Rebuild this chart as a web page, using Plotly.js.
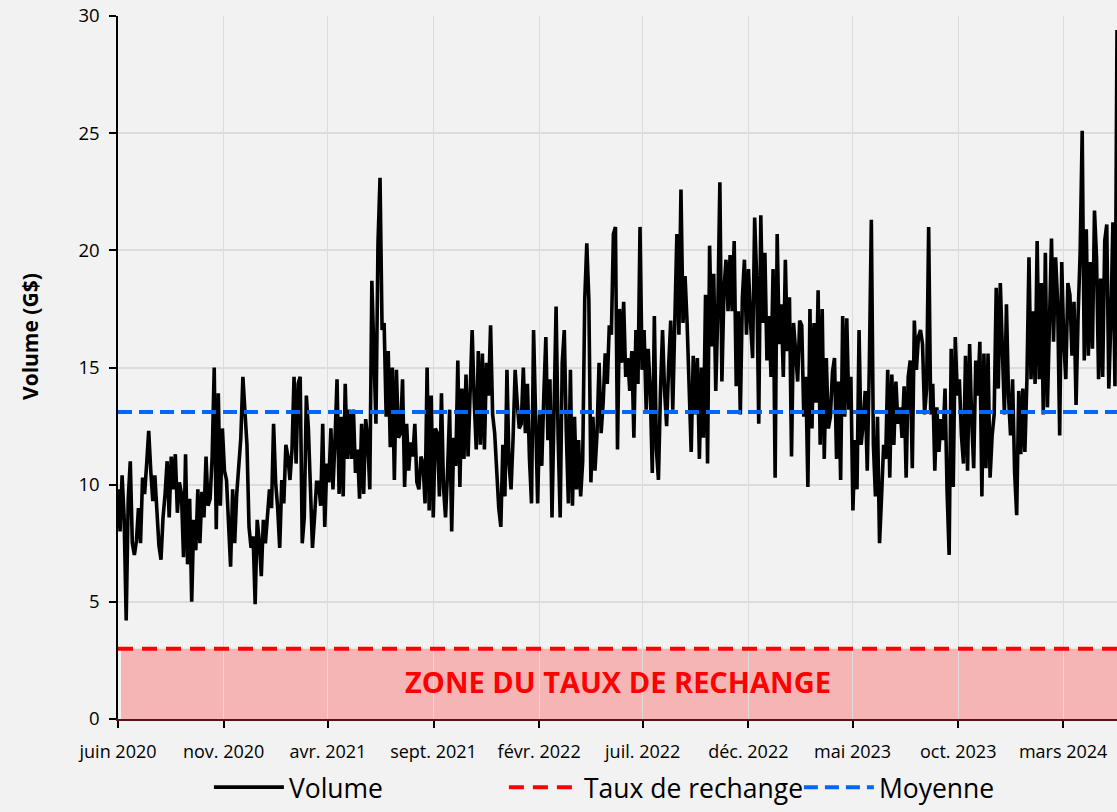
<!DOCTYPE html>
<html>
<head>
<meta charset="utf-8">
<script src="https://cdn.plot.ly/plotly-3.0.1.min.js"></script>
<style>html,body{margin:0;padding:0;background:#f2f2f2;}#chart{width:1117px;height:812px;}</style>
</head>
<body>
<div id="chart"></div>
<script>
// ---- data ----
const startDate = '2020-06-01';
const endDate = '2024-05-18';
const volume = [
  9.8, 8.0, 10.4, 8.6, 4.2, 9.4, 11.0, 7.5, 7.0,
  7.6, 9.0, 7.5, 10.3, 9.6, 10.9, 12.3,
  10.6, 9.3, 10.4, 8.6, 7.4, 6.8, 8.6, 9.6, 11.0,
  8.6, 11.2, 9.8, 11.3, 8.8, 10.1, 9.6,
  6.9, 11.3, 6.6, 9.4, 5.0, 8.5, 7.2,
  9.8, 7.5, 9.7, 8.6, 11.2, 9.1, 9.4, 11.2,
  15.0, 8.1, 13.9, 9.1, 12.4, 10.6,
  10.2, 8.0, 6.5, 9.8, 7.5, 9.6, 10.9, 12.0, 14.6, 12.9,
  11.7, 8.2, 7.3, 7.8, 4.9, 8.5, 7.6, 6.1,
  8.5, 7.5, 8.5, 9.8, 9.0, 12.6, 10.1, 9.0, 7.3,
  10.2, 9.2, 11.7, 11.2, 10.2, 11.5, 14.6, 10.9, 14.3, 14.6,
  7.5, 8.6, 13.8, 12.4, 9.4, 7.3, 8.6, 10.1,
  10.1, 9.1, 12.6, 8.2, 10.9, 10.1,
  12.4, 9.8, 11.9, 14.5, 9.6, 12.9, 9.5, 14.3,
  11.1, 13.2, 11.1, 13.2, 10.5, 11.5, 9.4, 12.6, 9.6, 12.8, 11.9, 9.8,
  18.7, 14.9, 12.6, 20.3, 23.1, 16.6, 16.9, 12.9,
  15.7, 11.6, 15.0, 10.2, 14.9, 12.0, 12.2, 14.5, 9.9,
  12.6, 10.6, 11.8, 11.2, 12.6, 10.1, 9.8, 11.2, 10.9, 9.2,
  15.0, 8.9, 13.8, 8.6, 12.4, 12.2, 9.5, 13.9, 9.9, 8.6, 10.6,
  13.2, 8.0, 12.0, 10.8, 15.3, 9.9, 14.1, 11.1,
  14.7, 11.2, 14.0, 16.6, 13.6, 11.5, 15.7, 11.7,
  15.6, 11.5, 15.2, 13.8, 16.8, 13.0, 12.2, 10.4, 9.0, 8.2,
  11.7, 9.5, 14.9, 10.9, 9.8, 12.0, 14.9, 13.5, 12.4,
  12.6, 15.0, 12.2, 14.3, 11.1, 9.2,
  16.6, 13.0, 9.2, 13.0, 10.8,
  13.8, 16.3, 11.9, 14.5, 8.6, 13.8, 17.6, 12.0,
  8.6, 15.2, 16.6, 12.2, 9.2, 14.9, 9.1, 12.9, 9.8, 11.9, 9.5, 11.0,
  17.9, 20.3, 17.9, 10.1, 12.9, 10.6, 12.2, 15.2, 12.2, 13.5,
  15.6, 14.3, 16.8, 16.4, 20.7, 21.0, 11.5, 17.5, 15.2, 17.8, 14.6,
  15.4, 14.0, 15.7, 12.0, 16.6, 14.3, 21.0, 14.9, 16.6, 13.2, 15.8,
  14.0, 10.5, 17.2, 11.5, 10.2, 14.0, 16.6, 14.0, 12.5, 15.1, 17.0, 13.2,
  17.2, 20.7, 16.4, 22.6, 16.9, 18.9, 16.9, 14.6, 11.4, 15.5, 13.0,
  15.4, 11.1, 15.0, 12.0, 18.1, 10.9, 20.2, 15.9, 19.0, 14.0, 17.4, 22.9,
  14.4, 18.3, 19.6, 17.4, 19.8, 17.4, 20.4,
  14.2, 17.4, 13.0, 18.0, 19.6, 16.4, 19.2, 16.9,
  15.4, 21.4, 18.8, 12.6, 21.5, 16.9, 19.9, 15.3,
  17.2, 14.6, 19.2, 10.3, 20.7, 16.0, 17.7, 14.6,
  19.6, 15.7, 18.0, 11.2, 16.9, 15.7, 14.4, 17.0,
  16.8, 12.9, 14.6, 9.9, 17.5, 12.4, 16.9, 13.5,
  18.3, 11.7, 17.5, 11.1, 15.4, 12.4, 12.9, 14.8,
  15.4, 11.1, 14.4, 10.2, 17.2, 12.9, 17.1, 13.2,
  14.6, 8.9, 11.9, 9.8, 16.6, 11.7, 12.6, 14.0,
  10.6, 15.0, 21.3, 11.7, 9.5, 12.9, 7.5, 9.5,
  11.7, 11.1, 14.9, 10.3, 14.7, 11.7, 14.4, 12.6, 13.3,
  12.0, 14.2, 10.3, 14.6,
  15.3, 10.7, 17.0, 14.9, 16.3, 16.6, 16.0, 13.0,
  14.1, 21.0, 13.0, 14.3, 10.6, 13.3, 11.4, 12.8,
  11.9, 14.1, 9.7, 7.0, 15.8, 9.9, 16.3,
  13.8, 14.5, 12.1, 10.9, 15.5, 10.6, 16.0, 12.8, 10.7, 15.3,
  13.8, 16.1, 9.5, 15.6, 10.7, 15.6, 10.3, 12.1, 13.0,
  18.4, 14.1, 18.6, 16.0, 13.0, 17.7, 13.8, 12.1, 14.5, 10.5,
  8.7, 14.0, 11.3, 14.1, 11.4, 14.5, 19.7,
  14.5, 17.4, 14.3, 20.4, 14.5, 18.6, 13.0, 19.9,
  13.3, 17.8, 20.5, 16.1, 19.7, 17.8, 12.1, 19.5,
  16.1, 14.5, 18.6, 18.1, 15.5, 17.8, 13.4, 17.2,
  19.9, 25.1, 15.3, 20.9, 15.5, 19.5, 15.8, 21.7,
  19.7, 14.5, 18.8, 14.6, 20.4, 21.1, 14.1, 17.0, 21.2, 14.2, 29.4
];
const tauxRechange = 3;
const moyenne = 13.1;
const tickDates = ['2020-06-01','2020-11-01','2021-04-01','2021-09-01','2022-02-01','2022-07-01','2022-12-01','2023-05-01','2023-10-01','2024-03-01'];
const tickLabels = ['juin 2020','nov. 2020','avr. 2021','sept. 2021','févr. 2022','juil. 2022','déc. 2022','mai 2023','oct. 2023','mars 2024'];
const zoneLabel = 'ZONE DU TAUX DE RECHANGE';
const seriesNames = ['Volume','Taux de rechange','Moyenne'];
const yTitle = 'Volume (G$)';

// ---- build dates (evenly spaced observations) ----
const t0 = Date.parse(startDate + 'T00:00:00Z');
const t1 = Date.parse(endDate + 'T00:00:00Z');
const n = volume.length;
const dates = volume.map((_, i) => new Date(t0 + (t1 - t0) * i / (n - 1)).toISOString().slice(0, 19).replace('T', ' '));

const FONT = 'Open Sans, DejaVu Sans, sans-serif';

const traces = [
  {x: dates, y: volume, type: 'scatter', mode: 'lines', name: seriesNames[0],
   line: {color: '#000000', width: 3.6}},
  {x: [dates[0], dates[n - 1]], y: [tauxRechange, tauxRechange], type: 'scatter', mode: 'lines', name: seriesNames[1],
   line: {color: '#ff0000', width: 4, dash: '15px,9px'}},
  {x: [dates[0], dates[n - 1]], y: [moyenne, moyenne], type: 'scatter', mode: 'lines', name: seriesNames[2],
   line: {color: '#0066ff', width: 4, dash: '14px,7px'}}
];

const layout = {
  width: 1117, height: 812,
  paper_bgcolor: '#f2f2f2', plot_bgcolor: '#f2f2f2',
  margin: {l: 118, r: 0, t: 16, b: 93, autoexpand: false},
  font: {family: FONT, color: '#000000', size: 18},
  showlegend: true,
  legend: {orientation: 'h', x: 0.091, xanchor: 'left', y: -0.1315, yanchor: 'bottom',
           font: {size: 26.5, family: FONT}, entrywidth: 210, itemwidth: 70, bgcolor: 'rgba(0,0,0,0)'},
  xaxis: {type: 'date', range: [startDate, endDate], tickmode: 'array', tickvals: tickDates, ticktext: tickLabels,
          ticks: 'outside', ticklen: 7, tickwidth: 1.5, tickcolor: '#000', showgrid: true, gridcolor: '#dcdcdc', gridwidth: 1,
          showline: true, linecolor: '#5a1414', linewidth: 2, zeroline: false, automargin: false,
          ticklabelstandoff: 8, tickfont: {size: 18, family: FONT}},
  yaxis: {range: [0, 30], dtick: 5, tick0: 0, ticks: 'outside', ticklen: 7, tickwidth: 1.5, tickcolor: '#000',
          showgrid: true, gridcolor: '#dcdcdc', gridwidth: 1.5, showline: true, linecolor: '#000', linewidth: 1.5,
          zeroline: false, automargin: false, ticklabelstandoff: 6, tickfont: {size: 18.5, family: FONT}},
  shapes: [
    {type: 'rect', xref: 'paper', yref: 'y', x0: 0.003, x1: 1, y0: 0, y1: tauxRechange,
     fillcolor: '#f5b5b5', line: {width: 0}, layer: 'below'}
  ],
  annotations: [
    {text: '<b>' + zoneLabel + '</b>', xref: 'paper', yref: 'y', x: 0.5, y: tauxRechange / 2 * 1.08,
     showarrow: false, font: {size: 29, color: '#ff0000', family: FONT}},
    {text: '<b>' + yTitle + '</b>', xref: 'paper', yref: 'paper', x: -0.0881, y: 0.5448, textangle: -90,
     xanchor: 'center', yanchor: 'middle',
     showarrow: false, font: {size: 21, color: '#000000', family: FONT}}
  ]
};

Plotly.newPlot('chart', traces, layout, {displayModeBar: false, responsive: false});
</script>
</body>
</html>
